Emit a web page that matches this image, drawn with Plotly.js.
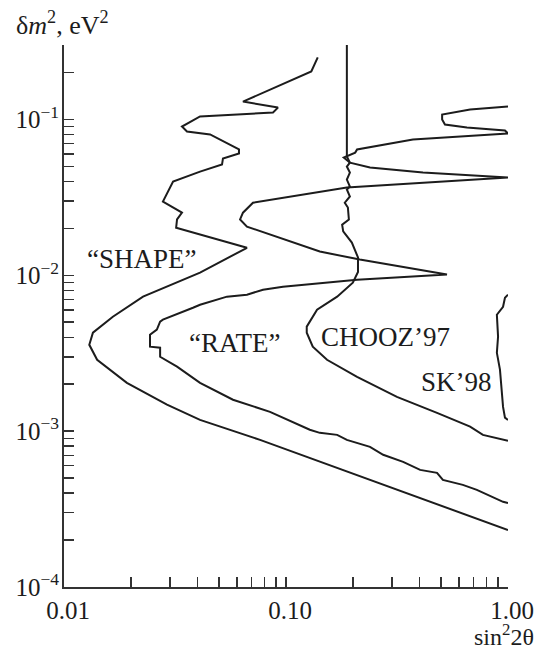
<!DOCTYPE html>
<html>
<head>
<meta charset="utf-8">
<script src="https://cdn.plot.ly/plotly-3.0.1.min.js"></script>
<style>
  html, body { margin: 0; padding: 0; background: #fff; }
  #plot { width: 539px; height: 650px; }
</style>
</head>
<body>
<div id="plot"></div>
<script>
// Exclusion contours in the (sin^2 2θ, δm^2) plane

// "SHAPE" contour, from the top end down to the lower right
const shapeX = [0.139, 0.130, 0.0640, 0.0920, 0.0874, 0.0410, 0.0340, 0.0358, 0.0455, 0.0559,
  0.0614, 0.0614, 0.0520, 0.0515, 0.0410, 0.0310, 0.0279, 0.0340, 0.0323, 0.0320,
  0.0667, 0.0410, 0.0227, 0.0166, 0.0135, 0.0130, 0.0141, 0.0192, 0.0291, 0.0410,
  0.0764, 1.0];
const shapeY = [0.250, 0.203, 0.130, 0.119, 0.1107, 0.1044, 0.0899, 0.0836, 0.0800, 0.0690,
  0.0641, 0.0604, 0.0561, 0.0513, 0.0462, 0.0399, 0.0297, 0.0252, 0.0228, 0.0202,
  0.0150, 0.0104, 0.00729, 0.00542, 0.00428, 0.00358, 0.00287, 0.00204, 0.00148, 0.00118,
  0.000879, 0.000232];

// "RATE" contour
const rateX = [1.0, 0.675, 0.505, 0.505, 0.520, 0.653, 0.969, 1.0, 0.373, 0.209,
  0.205, 0.190, 0.182, 0.194, 0.239, 0.414, 1.0, 0.188, 0.0847, 0.0710,
  0.0640, 0.0621, 0.0667, 0.0847, 0.142, 0.215, 0.531, 0.209, 0.0969, 0.0788,
  0.0667, 0.0542, 0.0410, 0.0381, 0.0279, 0.0271, 0.0262, 0.0244, 0.0244, 0.0271,
  0.0271, 0.0323, 0.0410, 0.0577, 0.0847, 0.128, 0.142, 0.170, 0.188, 0.239,
  0.274, 0.337, 0.402, 0.479, 0.509, 0.626, 0.724, 0.950, 1.0];
const rateY = [0.121, 0.1158, 0.1075, 0.0998, 0.0927, 0.0887, 0.0849, 0.0811, 0.0743, 0.0641,
  0.0612, 0.0586, 0.0569, 0.0528, 0.0491, 0.0456, 0.0424, 0.0365, 0.0306, 0.0292,
  0.0252, 0.0228, 0.0205, 0.0182, 0.0142, 0.0126, 0.0101, 0.00937, 0.00845, 0.00808,
  0.00750, 0.00729, 0.00647, 0.00619, 0.00519, 0.00504, 0.00448, 0.00415, 0.00348, 0.00343,
  0.00300, 0.00259, 0.00204, 0.00159, 0.00133, 0.00102, 0.000975, 0.000946, 0.000879, 0.000792,
  0.000705, 0.000635, 0.000564, 0.000540, 0.000486, 0.000452, 0.000420, 0.000352, 0.000346];

// CHOOZ'97 limit
const choozX = [0.188, 0.188, 0.194, 0.188, 0.194, 0.188, 0.194, 0.188, 0.194, 0.184,
  0.190, 0.192, 0.179, 0.181, 0.198, 0.211, 0.211, 0.200, 0.170, 0.138,
  0.124, 0.124, 0.132, 0.153, 0.209, 0.316, 0.479, 0.675, 0.771, 1.0];
const choozY = [0.3, 0.0578, 0.0528, 0.0498, 0.0456, 0.0411, 0.0371, 0.0355, 0.0320, 0.0292,
  0.0272, 0.0228, 0.0211, 0.0191, 0.0162, 0.0130, 0.0105, 0.00896, 0.00729, 0.00601,
  0.00468, 0.00428, 0.00348, 0.00287, 0.00223, 0.00166, 0.00131, 0.00107, 0.000946, 0.000866];

// SK'98 allowed region edge
const skX = [1.0, 0.969, 0.950, 0.891, 0.902, 0.891, 0.920, 0.950, 0.969, 1.0];
const skY = [0.00750, 0.00718, 0.00628, 0.00558, 0.00404, 0.00318, 0.00248, 0.00143, 0.00122, 0.00118];

// Axis ticks and labels
const xTickVals = [0.01, 0.1, 1.0];
const xTickLabels = ['0.01', '0.10', '1.00'];
const xMinorVals = [0.02, 0.03, 0.04, 0.05, 0.06, 0.07, 0.08, 0.09,
  0.2, 0.3, 0.4, 0.5, 0.6, 0.7, 0.8, 0.9];
const yTickVals = [1e-4, 1e-3, 1e-2, 1e-1];
const yTickLabels = ['10<sup>−4</sup>', '10<sup>−3</sup>', '10<sup>−2</sup>', '10<sup>−1</sup>'];
const yExtraTicks = [0.2, 0.3];

// Curve labels
const labelText = ['“SHAPE”', '“RATE”', 'CHOOZ’97', 'SK’98'];
const labelX = [0.0225, 0.0589, 0.282, 0.589];
const labelY = [0.0128, 0.00369, 0.00404, 0.00208];

// intermediate log ticks 2..9 within each decade
const yMinorVals = [];
yTickVals.forEach(v => { for (let m = 2; m <= 9; m++) yMinorVals.push(m * v); });
yExtraTicks.forEach(v => { if (yMinorVals.indexOf(v) < 0) yMinorVals.push(v); });

const ink = '#1c1c1c';
const lineStyle = {color: ink, width: 2};
const mk = (x, y) => ({x: x, y: y, type: 'scatter', mode: 'lines', line: lineStyle, hoverinfo: 'skip'});

const data = [mk(shapeX, shapeY), mk(rateX, rateY), mk(choozX, choozY), mk(skX, skY)];

const family = '"Liberation Serif", "Times New Roman", serif';
const tickFont = {family: family, size: 25, color: ink};
const labelFont = {family: family, size: 27, color: ink};

const annotations = labelText.map((t, i) => ({
  text: t, x: Math.log10(labelX[i]), y: Math.log10(labelY[i]), xref: 'x', yref: 'y',
  showarrow: false, xanchor: 'center', yanchor: 'middle', font: labelFont
}));

annotations.push({
  text: 'δ<i>m</i><sup>2</sup>, eV<sup>2</sup>', xref: 'paper', yref: 'paper',
  x: -0.113, y: 1.04, xanchor: 'left', yanchor: 'middle', showarrow: false,
  font: {family: family, size: 26, color: ink}
});
annotations.push({
  text: 'sin<sup>2</sup>2θ', xref: 'paper', yref: 'paper',
  x: 1.06, y: -0.089, xanchor: 'right', yanchor: 'middle', showarrow: false, borderpad: 0,
  font: {family: family, size: 24, color: ink}
});

const axisCommon = {
  type: 'log', showgrid: false, zeroline: false, showline: true, linecolor: '#333', linewidth: 2,
  ticks: 'inside', ticklen: 10, tickwidth: 1.5, tickcolor: '#333', tickmode: 'array',
  tickfont: tickFont, mirror: false
};
const minorCommon = {ticks: 'inside', ticklen: 10, tickwidth: 1.5, tickcolor: '#333', showgrid: false, tickmode: 'array'};

const layout = {
  width: 539, height: 650,
  margin: {l: 64, r: 31, t: 45, b: 63},
  paper_bgcolor: '#fff', plot_bgcolor: '#fff',
  showlegend: false,
  font: tickFont,
  xaxis: Object.assign({}, axisCommon, {
    range: [-2, 0], tickvals: xTickVals, ticktext: xTickLabels, ticklabelshift: 4,
    minor: Object.assign({}, minorCommon, {tickvals: xMinorVals})
  }),
  yaxis: Object.assign({}, axisCommon, {
    range: [-4, Math.log10(0.3)], tickvals: yTickVals, ticktext: yTickLabels, ticklabelstandoff: -2,
    minor: Object.assign({}, minorCommon, {tickvals: yMinorVals})
  }),
  annotations: annotations
};

Plotly.newPlot('plot', data, layout, {staticPlot: true, displayModeBar: false});
</script>
</body>
</html>
